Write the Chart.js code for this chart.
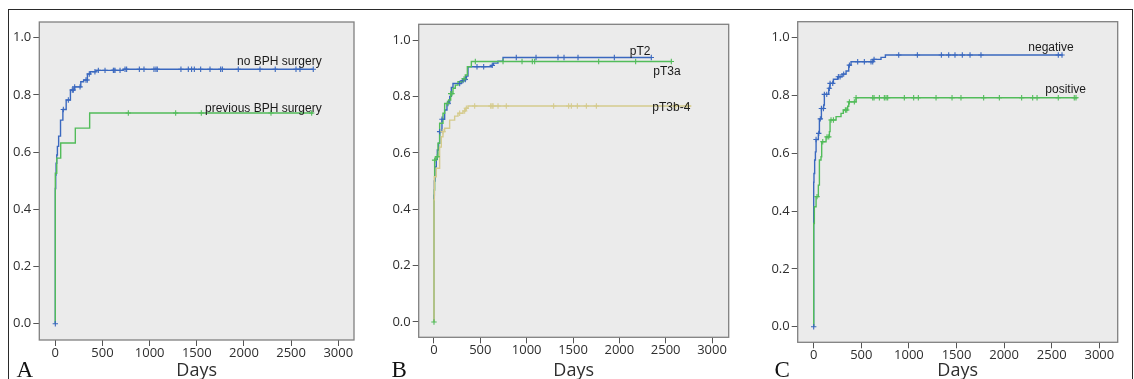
<!DOCTYPE html>
<html><head><meta charset="utf-8">
<script src="https://cdn.jsdelivr.net/npm/chart.js@4.4.1/dist/chart.umd.min.js"></script>
<style>
html,body{margin:0;padding:0;background:#fff;width:1134px;height:379px;overflow:hidden;}
#frame{position:absolute;left:8px;top:9px;width:1125px;height:420px;border:1px solid #2a2a2a;border-bottom:none;box-sizing:border-box;}
.pan{position:absolute;top:0;width:378px;height:379px;}
.letter{position:absolute;font-family:"Liberation Serif","Times New Roman",serif;font-size:23px;line-height:23px;color:#111;}
</style></head><body>
<div id="frame"></div>
<div class="pan" style="left:0px"><canvas id="cA"></canvas></div>
<div class="pan" style="left:378px"><canvas id="cB"></canvas></div>
<div class="pan" style="left:756px"><canvas id="cC"></canvas></div>
<div class="letter" style="left:16.5px;top:357.7px">A</div>
<div class="letter" style="left:391.5px;top:357.7px">B</div>
<div class="letter" style="left:774.5px;top:357.7px">C</div>
<script>
// ---------- tick labels ----------
const xTicks = [0, 500, 1000, 1500, 2000, 2500, 3000];
const yTicks = [0.0, 0.2, 0.4, 0.6, 0.8, 1.0];
const xTitle = 'Days';

// ---------- Panel A ----------
const aNoBphT = [0, 0, 4, 8, 15, 22, 35, 55, 80, 115, 160, 205, 270, 300, 340, 370, 430, 720, 2735];
const aNoBphS = [0, 0.473, 0.52, 0.561, 0.59, 0.62, 0.656, 0.712, 0.749, 0.782, 0.817, 0.828, 0.846, 0.852, 0.873, 0.881, 0.886, 0.890, 0.890];
const aNoBphCens = [0, 85, 138, 180, 191, 205, 262, 325, 339, 360, 420, 456, 527, 615, 622, 633, 686, 739, 756, 891, 940, 1046, 1067, 1081, 1332, 1410, 1445, 1474, 1541, 1640, 1753, 1771, 1940, 2170, 2332, 2552, 2594, 2735];
const aPrevT = [0, 0, 15, 57, 212, 364, 2735];
const aPrevS = [0, 0.526, 0.579, 0.632, 0.684, 0.737, 0.737];
const aPrevCens = [774, 1276, 1548, 2287, 2718];

// ---------- Panel B ----------
const bPT2T = [0, 0, 4, 10, 25, 36, 50, 61, 86, 115, 140, 170, 187, 205, 295, 330, 350, 367, 620, 640, 690, 745, 2345];
const bPT2S = [0, 0.45, 0.5, 0.55, 0.577, 0.61, 0.634, 0.675, 0.719, 0.752, 0.775, 0.8, 0.832, 0.846, 0.856, 0.86, 0.872, 0.905, 0.91, 0.918, 0.925, 0.938, 0.938];
const bPT2Cens = [61, 86, 151, 277, 313, 338, 464, 536, 629, 888, 1101, 1338, 1403, 1554, 1946, 2345];
const bPT3aT = [0, 0, 3, 7, 20, 43, 61, 97, 115, 158, 180, 205, 230, 259, 313, 338, 360, 403, 2561];
const bPT3aS = [0, 0.43, 0.468, 0.574, 0.586, 0.634, 0.705, 0.74, 0.775, 0.787, 0.81, 0.829, 0.84, 0.852, 0.862, 0.876, 0.905, 0.924, 0.924];
const bPT3aCens = [0, 7, 36, 144, 180, 194, 324, 446, 745, 950, 1061, 1086, 1777, 2176, 2561];
const bPT3bT = [0, 0, 4, 25, 61, 79, 97, 115, 169, 223, 259, 313, 338, 367, 2777];
const bPT3bS = [0, 0.433, 0.515, 0.545, 0.62, 0.657, 0.675, 0.687, 0.716, 0.73, 0.74, 0.748, 0.758, 0.766, 0.766];
const bPT3bCens = [97, 277, 331, 349, 439, 612, 626, 637, 691, 780, 1291, 1453, 1482, 1547, 1644, 1752, 2608, 2723, 2741];

// ---------- Panel C ----------
const cNegT = [0, 0, 3, 10, 18, 25, 49, 60, 81, 105, 112, 158, 172, 207, 252, 298, 340, 368, 392, 627, 707, 753, 2615];
const cNegS = [0, 0.50, 0.53, 0.577, 0.605, 0.648, 0.669, 0.719, 0.755, 0.767, 0.804, 0.825, 0.842, 0.856, 0.865, 0.874, 0.885, 0.905, 0.917, 0.925, 0.932, 0.94, 0.94];
const cNegCens = [0, 25, 53, 70, 81, 102, 112, 137, 165, 172, 200, 259, 277, 315, 375, 462, 532, 602, 620, 634, 893, 1089, 1341, 1418, 1484, 1561, 1642, 1757, 2569, 2608];
const cPosT = [0, 0, 7, 25, 49, 60, 77, 84, 130, 165, 172, 235, 287, 311, 357, 368, 445, 2772];
const cPosS = [0, 0.357, 0.415, 0.45, 0.49, 0.577, 0.588, 0.64, 0.657, 0.675, 0.715, 0.727, 0.738, 0.75, 0.763, 0.778, 0.792, 0.792];
const cPosCens = [35, 95, 140, 158, 182, 207, 333, 347, 375, 427, 445, 620, 634, 690, 742, 760, 777, 952, 1050, 1099, 1285, 1453, 1547, 1785, 1950, 2184, 2300, 2346, 2569, 2737, 2755];

// ---------- styling ----------
const BLUE = '#3a68bf';
const GREEN = '#52bc5a';
const TAN = '#d5cb8d';

function levelAt(times, vals, t) {
  let v = 0;
  if (t > 0) { for (let i = 0; i < times.length; i++) if (times[i] <= t) v = vals[i]; }
  return v;
}

const panels = [
  { id: 'cA', xmin: -170, xmax: 3167, ymin: -0.057, ymax: 1.055, yW: 39.3, xH: 39,
    pad: { left: 0, top: 22, right: 24, bottom: 0 },
    curves: [
      { t: aPrevT, s: aPrevS, c: aPrevCens, color: GREEN, z: 1 },
      { t: aNoBphT, s: aNoBphS, c: aNoBphCens, color: BLUE, z: 2 }
    ],
    notes: [ { text: 'no BPH surgery', x: 1926, y: 0.9035 }, { text: 'previous BPH surgery', x: 1587, y: 0.742 } ] },
  { id: 'cB', xmin: -165, xmax: 3180, ymin: -0.0543, ymax: 1.0557, yW: 40.7, xH: 41.7,
    pad: { left: 0, top: 24.3, right: 27.3, bottom: 0 },
    curves: [
      { t: bPT3bT, s: bPT3bS, c: bPT3bCens, color: TAN, z: 1 },
      { t: bPT3aT, s: bPT3aS, c: bPT3aCens, color: GREEN, z: 2 },
      { t: bPT2T, s: bPT2S, c: bPT2Cens, color: BLUE, z: 3 }
    ],
    notes: [ { text: 'pT2', x: 2112, y: 0.948 }, { text: 'pT3a', x: 2367, y: 0.875 }, { text: 'pT3b-4', x: 2356, y: 0.7472 } ] },
  { id: 'cC', xmin: -168, xmax: 3193, ymin: -0.054, ymax: 1.0554, yW: 41.7, xH: 36.7,
    pad: { left: 0, top: 21.7, right: 16.3, bottom: 0 },
    curves: [
      { t: cPosT, s: cPosS, c: cPosCens, color: GREEN, z: 1 },
      { t: cNegT, s: cNegS, c: cNegCens, color: BLUE, z: 2 }
    ],
    notes: [ { text: 'negative', x: 2254, y: 0.9547 }, { text: 'positive', x: 2433, y: 0.8104 } ] }
];

function makePanel(p) {
  const datasets = [];
  p.curves.forEach(cv => {
    datasets.push({
      data: cv.t.map((t, i) => ({ x: t, y: cv.s[i] })),
      borderColor: cv.color, borderWidth: 1.4, stepped: true, pointRadius: 0,
      fill: false, order: 10 + cv.z
    });
    datasets.push({
      data: cv.c.map(t => ({ x: t, y: levelAt(cv.t, cv.s, t) })),
      showLine: false, pointStyle: 'cross', pointRadius: 2.7, pointBorderWidth: 1.1,
      borderColor: cv.color, backgroundColor: cv.color, order: cv.z
    });
  });
  const boxPlugin = {
    id: 'box' + p.id,
    beforeDraw(chart) {
      const { ctx, chartArea: a } = chart;
      ctx.save();
      ctx.fillStyle = '#ebebeb';
      ctx.fillRect(a.left, a.top, a.right - a.left, a.bottom - a.top);
      ctx.restore();
    },
    afterDraw(chart) {
      const { ctx, chartArea: a, scales } = chart;
      ctx.save();
      ctx.strokeStyle = '#808080';
      ctx.lineWidth = 1.3;
      ctx.strokeRect(a.left, a.top, a.right - a.left, a.bottom - a.top);
      ctx.fillStyle = '#1a1a1a';
      ctx.font = '12px "Liberation Sans", Arial, sans-serif';
      ctx.textAlign = 'left';
      ctx.textBaseline = 'alphabetic';
      p.notes.forEach(n => {
        ctx.fillText(n.text, scales.x.getPixelForValue(n.x), scales.y.getPixelForValue(n.y));
      });
      ctx.restore();
    }
  };
  new Chart(document.getElementById(p.id), {
    type: 'line',
    data: { datasets },
    plugins: [boxPlugin],
    options: {
      responsive: true, maintainAspectRatio: false, animation: false, devicePixelRatio: 1,
      layout: { padding: p.pad },
      plugins: { legend: { display: false }, tooltip: { enabled: false } },
      scales: {
        x: {
          type: 'linear', min: p.xmin, max: p.xmax,
          afterBuildTicks: s => { s.ticks = xTicks.map(v => ({ value: v })); },
          afterFit: s => { s.height = p.xH; },
          grid: { display: true, drawOnChartArea: false, drawTicks: true, tickLength: 6, color: '#555', tickWidth: 1 },
          border: { display: false },
          ticks: { autoSkip: false, maxRotation: 0, padding: -1, color: '#2e2e2e',
                   font: { family: '"Open Sans", sans-serif', size: 13 }, callback: v => String(v) },
          title: { display: true, text: xTitle, color: '#2e2e2e', padding: { top: 0, bottom: -3 },
                   font: { family: '"Open Sans", sans-serif', size: 18 } }
        },
        y: {
          type: 'linear', min: p.ymin, max: p.ymax,
          afterBuildTicks: s => { s.ticks = yTicks.map(v => ({ value: v })); },
          afterFit: s => { s.width = p.yW; },
          grid: { display: true, drawOnChartArea: false, drawTicks: true, tickLength: 6, color: '#555', tickWidth: 1 },
          border: { display: false },
          ticks: { padding: 2, color: '#2e2e2e',
                   font: { family: '"Open Sans", sans-serif', size: 13 }, callback: v => Number(v).toFixed(1) }
        }
      }
    }
  });
}
panels.forEach(makePanel);
</script>
</body></html>
